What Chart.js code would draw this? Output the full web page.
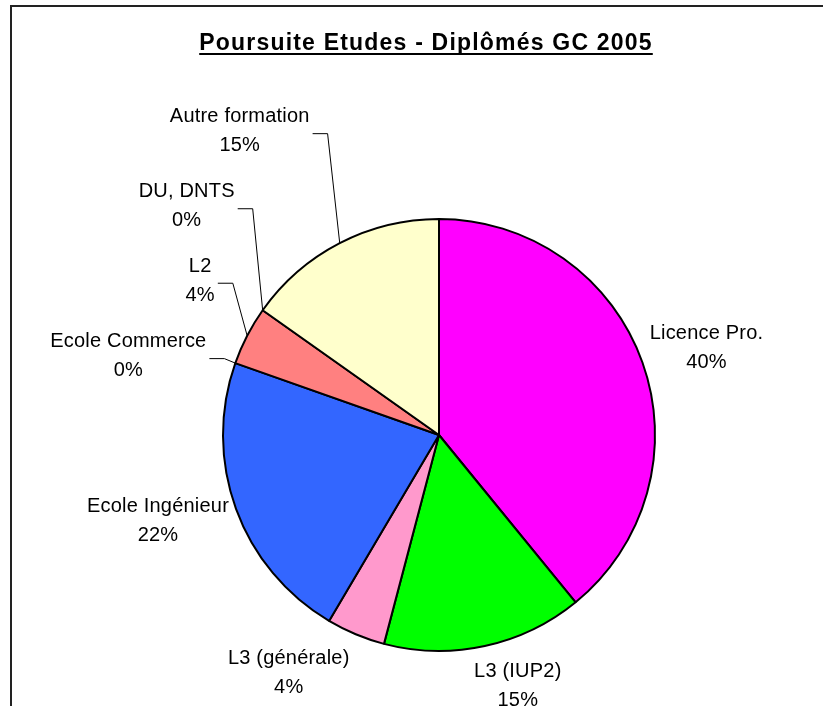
<!DOCTYPE html>
<html>
<head>
<meta charset="utf-8">
<script src="https://cdn.jsdelivr.net/npm/chart.js@4/dist/chart.umd.min.js"></script>
<style>
  html, body { margin: 0; padding: 0; background: #fff; }
  canvas { display: block; }
</style>
</head>
<body>
<canvas id="chart" width="823" height="706"></canvas>
<script>
// Parts of the 2005 GC graduates by what they went on to study (share of the pie, %)
const categories = [
  "Licence Pro.", "L3 (IUP2)", "L3 (générale)", "Ecole Ingénieur",
  "Ecole Commerce", "L2", "DU, DNTS", "Autre formation"
];
const shares = [39.1, 15.0, 4.4, 21.9, 0, 4.4, 0, 15.2];
const pctLabels = ["40%", "15%", "4%", "22%", "0%", "4%", "0%", "15%"];

const sliceColors = [
  "#FF00FF", "#00FF00", "#FF99CC", "#3366FF",
  "#993366", "#FF8080", "#CCFFFF", "#FFFFCC"
];

// where each label sits, relative to the middle of its slice's edge
const labelShift = [
  [64, -15], [33, 39], [-67, 38], [-78, 11],
  [-107, -8], [-47, -56], [-76, -105], [-100, -113]
];
const hasLeader = [false, false, false, false, true, true, true, true];

const FONT = '"Liberation Sans", Arial, sans-serif';

const decor = {
  id: "decor",
  beforeDraw(chart) {
    const ctx = chart.ctx;
    ctx.save();
    ctx.fillStyle = "#fff";
    ctx.fillRect(0, 0, chart.width, chart.height);
    // outer frame (only its left and top edges are in view)
    ctx.fillStyle = "#222";
    ctx.fillRect(10, 5, 2, chart.height);
    ctx.fillRect(10, 5, chart.width, 2);
    ctx.restore();
  },
  afterDraw(chart) {
    const ctx = chart.ctx;
    ctx.save();

    // title, bold and underlined
    const title = "Poursuite Etudes - Diplômés GC 2005";
    ctx.font = "bold 23px " + FONT;
    if ("letterSpacing" in ctx) ctx.letterSpacing = "1.2px";
    ctx.fillStyle = "#000";
    ctx.textAlign = "left";
    ctx.textBaseline = "alphabetic";
    const tw = ctx.measureText(title).width;
    const tx = 426 - tw / 2;
    ctx.fillText(title, tx, 50);
    ctx.fillRect(tx, 53, tw, 2);
    if ("letterSpacing" in ctx) ctx.letterSpacing = "0.2px";

    // slice labels
    ctx.font = "20px " + FONT;
    ctx.textAlign = "center";
    const arcs = chart.getDatasetMeta(0).data;
    arcs.forEach((arc, i) => {
      const p = arc.getProps(["x", "y", "startAngle", "endAngle", "outerRadius"], true);
      const mid = (p.startAngle + p.endAngle) / 2;
      const ex = p.x + Math.cos(mid) * p.outerRadius;
      const ey = p.y + Math.sin(mid) * p.outerRadius;
      const cx = ex + labelShift[i][0];
      const cy = ey + labelShift[i][1];

      ctx.fillStyle = "#000";
      ctx.fillText(categories[i], cx, cy - 8);
      ctx.fillText(pctLabels[i], cx, cy + 21);

      if (hasLeader[i]) {
        const w = Math.max(ctx.measureText(categories[i]).width,
                           ctx.measureText(pctLabels[i]).width);
        const sx = cx + w / 2 + 3;
        const sy = cy + 3;
        ctx.strokeStyle = "#000";
        ctx.lineWidth = 1;
        ctx.beginPath();
        ctx.moveTo(sx, sy + 0.5);
        ctx.lineTo(sx + 15, sy + 0.5);
        ctx.lineTo(ex, ey);
        ctx.stroke();
      }
    });
    ctx.restore();
  }
};

new Chart(document.getElementById("chart"), {
  type: "pie",
  data: {
    labels: categories,
    datasets: [{
      data: shares,
      backgroundColor: sliceColors,
      borderColor: "#000",
      borderWidth: 2
    }]
  },
  options: {
    responsive: false,
    animation: false,
    radius: 216,
    layout: { padding: { left: 55, right: 0, top: 164, bottom: 0 } },
    plugins: {
      legend: { display: false },
      title: { display: false },
      tooltip: { enabled: false }
    }
  },
  plugins: [decor]
});
</script>
</body>
</html>
